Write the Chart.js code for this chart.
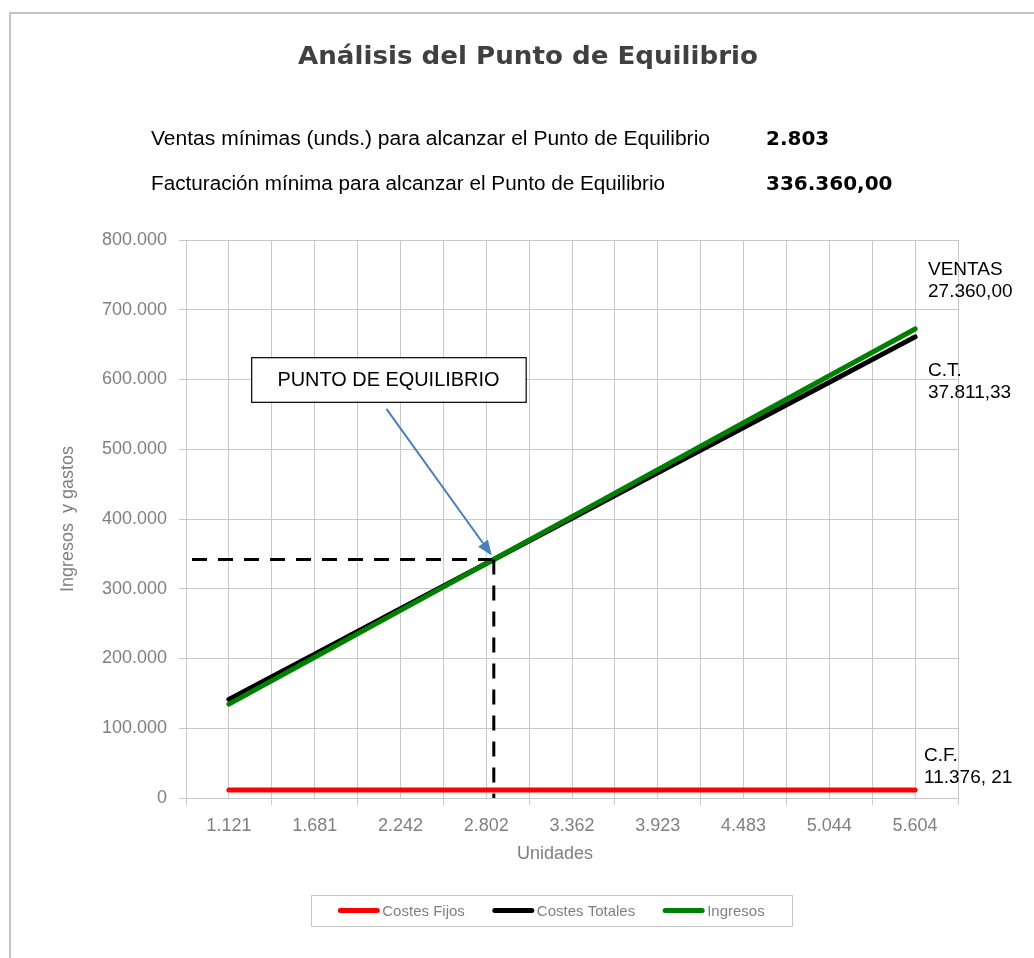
<!DOCTYPE html>
<html>
<head>
<meta charset="utf-8">
<title>Análisis del Punto de Equilibrio</title>
<script src="https://cdn.jsdelivr.net/npm/chart.js@4.4.1/dist/chart.umd.min.js"></script>
<style>
  html, body { margin: 0; padding: 0; background: #fff; overflow: hidden; }
  #wrap { position: relative; width: 1034px; height: 958px; }
  /* only the top and left edges of the Excel chart frame are in view */
  #frame { position: absolute; left: 9px; top: 12px; width: 1200px; height: 1200px;
           border-left: 2px solid #c4c4c4; border-top: 2px solid #c4c4c4; }
  #chart { position: absolute; left: 0; top: 0; }
</style>
</head>
<body>
<div id="wrap">
  <div id="frame"></div>
  <canvas id="chart" width="1034" height="958"></canvas>
</div>
<script>
// ---- data ----
const unidades = ['1.121', '1.681', '2.242', '2.802', '3.362', '3.923', '4.483', '5.044', '5.604'];
const costesFijos = [11376, 11376, 11376, 11376, 11376, 11376, 11376, 11376, 11376];
const costesTotales = [141345, 206271, 271313, 336240, 401166, 466209, 531135, 596177, 661104];
const ingresos = [134520, 201720, 269040, 336240, 403440, 470760, 537960, 605280, 672480];
const yMin = 0;
const yMax = 800000;
const yStep = 100000;

// break-even marker (category index, value) as drawn in the picture
const puntoEquilibrio = { index: 3.065, value: 342000 };

const resumen = [
  ['Ventas mínimas (unds.) para alcanzar el Punto de Equilibrio', '2.803'],
  ['Facturación mínima para alcanzar el Punto de Equilibrio', '336.360,00']
];
const etiquetasDerecha = [
  ['VENTAS', '27.360,00'],
  ['C.T.', '37.811,33'],
  ['C.F.', '11.376, 21']
];

// ---- styling ----
const GRAY = '#808080';
const GRID = '#c8c8c8';
const SANS = '"Liberation Sans", Arial, sans-serif';
const BOLD = '"DejaVu Sans", Verdana, sans-serif';

// draw text squeezed/stretched to a known width (Excel fonts are not installed)
function fitText(ctx, text, x, y, width, align) {
  const w = ctx.measureText(text).width;
  const s = width / w;
  ctx.save();
  ctx.translate(x, y);
  ctx.scale(s, 1);
  ctx.textAlign = align || 'left';
  ctx.fillText(text, 0, 0);
  ctx.restore();
}

const decor = {
  id: 'decor',
  afterDatasetsDraw(chart) {
    const ctx = chart.ctx;
    const x = chart.scales.x, y = chart.scales.y;
    const area = chart.chartArea;
    const px = x.getPixelForValue(puntoEquilibrio.index);
    const py = y.getPixelForValue(puntoEquilibrio.value);

    // dashed guides to the break-even point
    ctx.save();
    ctx.strokeStyle = '#000';
    ctx.lineWidth = 3;
    ctx.setLineDash([15, 11]);
    ctx.beginPath();
    ctx.moveTo(area.left + 6, py);
    ctx.lineTo(px, py);
    ctx.stroke();
    ctx.beginPath();
    ctx.moveTo(px + 2, py);
    ctx.lineTo(px + 2, area.bottom);
    ctx.stroke();
    ctx.restore();

    // callout box
    const bx0 = x.getPixelForValue(0.26), bx1 = x.getPixelForValue(3.46);
    const by0 = y.getPixelForValue(632000), by1 = y.getPixelForValue(568000);
    ctx.save();
    ctx.fillStyle = '#fff';
    ctx.fillRect(bx0, by0, bx1 - bx0, by1 - by0);
    ctx.strokeStyle = '#000';
    ctx.lineWidth = 1.2;
    ctx.strokeRect(bx0 + 0.5, by0 + 0.5, bx1 - bx0, by1 - by0);
    ctx.fillStyle = '#000';
    ctx.font = '20px ' + SANS;
    fitText(ctx, 'PUNTO DE EQUILIBRIO', (bx0 + bx1) / 2, by0 + 29, 222, 'center');

    // arrow
    const tx = (bx0 + bx1) / 2 - 2, ty = by1 + 7;
    const ex = px, ey = py - 4;
    const ang = Math.atan2(ey - ty, ex - tx);
    const head = 15;
    ctx.strokeStyle = '#4a7ebb';
    ctx.fillStyle = '#4a7ebb';
    ctx.lineWidth = 2;
    ctx.beginPath();
    ctx.moveTo(tx, ty);
    ctx.lineTo(ex - head * Math.cos(ang), ey - head * Math.sin(ang));
    ctx.stroke();
    ctx.beginPath();
    ctx.moveTo(ex, ey);
    ctx.lineTo(ex - head * Math.cos(ang) + 6 * Math.sin(ang), ey - head * Math.sin(ang) - 6 * Math.cos(ang));
    ctx.lineTo(ex - head * Math.cos(ang) - 6 * Math.sin(ang), ey - head * Math.sin(ang) + 6 * Math.cos(ang));
    ctx.closePath();
    ctx.fill();
    ctx.restore();
  },
  afterDraw(chart) {
    const ctx = chart.ctx;
    const area = chart.chartArea;
    const y = chart.scales.y;
    ctx.save();

    // title
    ctx.fillStyle = '#404040';
    ctx.font = 'bold 25px ' + BOLD;
    fitText(ctx, 'Análisis del Punto de Equilibrio', 528, 64, 460, 'center');

    // summary lines
    ctx.fillStyle = '#000';
    ctx.font = '20px ' + SANS;
    fitText(ctx, resumen[0][0], 151, 145, 559);
    fitText(ctx, resumen[1][0], 151, 190, 514);
    ctx.font = 'bold 20px ' + BOLD;
    ctx.textAlign = 'left';
    ctx.fillText(resumen[0][1], 766, 145);
    ctx.fillText(resumen[1][1], 766, 190);

    // labels at the right of the line ends
    ctx.font = '19px ' + SANS;
    const tops = [750000, 605000, 53000];
    etiquetasDerecha.forEach(function (lab, i) {
      const yy = y.getPixelForValue(tops[i]);
      const xx = area.right - (i === 2 ? 34 : 30);
      ctx.fillText(lab[0], xx, yy);
      ctx.fillText(lab[1], xx, yy + 22);
    });

    // x axis title (Excel placed it left of the plot centre)
    ctx.fillStyle = GRAY;
    ctx.font = '18px ' + SANS;
    ctx.textAlign = 'center';
    ctx.fillText('Unidades', 555, 859);

    // legend, boxed, under the chart
    const lx0 = 311, ly0 = 895, lw = 481, lh = 31;
    ctx.strokeStyle = GRID;
    ctx.lineWidth = 1;
    ctx.strokeRect(lx0 + 0.5, ly0 + 0.5, lw, lh);
    ctx.font = '15px ' + SANS;
    ctx.textAlign = 'left';
    ctx.textBaseline = 'middle';
    const items = chart.data.datasets;
    const seg = 41, gap = 3, space = 28;
    let total = 0;
    items.forEach(function (d, i) {
      total += seg + gap + ctx.measureText(d.label).width + (i ? space : 0);
    });
    let cx = lx0 + (lw - total) / 2;
    const cy = ly0 + lh / 2;
    items.forEach(function (d) {
      ctx.strokeStyle = d.borderColor;
      ctx.lineWidth = 5;
      ctx.lineCap = 'round';
      ctx.beginPath();
      ctx.moveTo(cx + 2, cy);
      ctx.lineTo(cx + seg - 2, cy);
      ctx.stroke();
      ctx.fillStyle = GRAY;
      ctx.fillText(d.label, cx + seg + gap, cy + 1);
      cx += seg + gap + ctx.measureText(d.label).width + space;
    });
    ctx.restore();
  }
};

function lineSet(label, data, color, order) {
  return {
    label: label,
    data: data,
    borderColor: color,
    backgroundColor: color,
    borderWidth: 5,
    borderCapStyle: 'round',
    pointRadius: 0,
    pointHoverRadius: 0,
    tension: 0,
    order: order
  };
}

new Chart(document.getElementById('chart'), {
  type: 'line',
  data: {
    labels: unidades,
    datasets: [
      lineSet('Costes Fijos', costesFijos, '#ff0000', 2),
      lineSet('Costes Totales', costesTotales, '#000000', 1),
      lineSet('Ingresos', ingresos, '#008000', 0)
    ]
  },
  options: {
    responsive: false,
    animation: false,
    layout: { padding: { left: 50, top: 240, right: 76, bottom: 100 } },
    plugins: {
      legend: { display: false },
      tooltip: { enabled: false },
      title: { display: false }
    },
    scales: {
      x: {
        type: 'category',
        offset: true,
        grid: { offset: true, color: GRID, lineWidth: 1, drawTicks: true, tickLength: 7 },
        border: { display: true, color: GRID, width: 1 },
        ticks: { color: GRAY, font: { family: SANS, size: 18 }, padding: 10, maxRotation: 0, autoSkip: false },
        afterFit: function (s) { s.height = 60; }
      },
      x2: {
        type: 'category',
        position: 'bottom',
        offset: true,
        grid: { offset: false, color: GRID, lineWidth: 1, drawTicks: false },
        border: { display: false },
        ticks: { display: false },
        afterFit: function (s) { s.height = 0; }
      },
      y: {
        min: yMin,
        max: yMax,
        ticks: {
          stepSize: yStep,
          color: GRAY,
          font: { family: SANS, size: 18 },
          padding: 12,
          callback: function (v) { return v.toLocaleString('de-DE'); }
        },
        grid: { color: GRID, lineWidth: 1, drawTicks: true, tickLength: 7 },
        border: { display: true, color: GRID, width: 1 },
        title: {
          display: true,
          text: 'Ingresos  y gastos',
          color: GRAY,
          font: { family: SANS, size: 18 },
          padding: { top: 7, bottom: 0 }
        },
        afterFit: function (s) { s.width = 136; }
      }
    }
  },
  plugins: [decor]
});
</script>
</body>
</html>
